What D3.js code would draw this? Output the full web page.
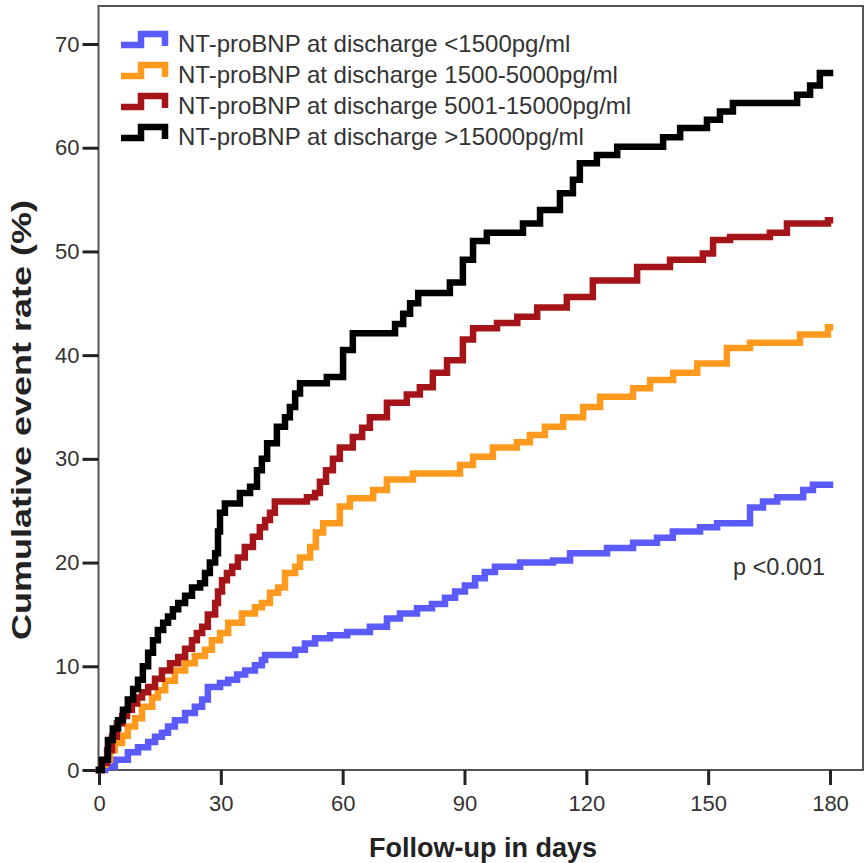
<!DOCTYPE html>
<html>
<head>
<meta charset="utf-8">
<script src="https://cdn.jsdelivr.net/npm/d3@7"></script>
<style>
  body { margin: 0; background: #fff; }
  svg { display: block; font-family: "Liberation Sans", Arial, sans-serif; }
</style>
</head>
<body>
<div id="chart"></div>
<script>
// step points: [day, cumulative event rate %]
const seriesNames = [
    'NT-proBNP at discharge <1500pg/ml',
    'NT-proBNP at discharge 1500-5000pg/ml',
    'NT-proBNP at discharge 5001-15000pg/ml',
    'NT-proBNP at discharge >15000pg/ml'
];
const seriesColors = ['#5b5bfb', '#ff9a1e', '#a51419', '#000000'];

const lowData = [
    [0,0],[1.5,0.3],[3.9,1.0],[7.1,1.7],[9.6,2.2],[12.1,2.7],[13.8,3.2],[15.5,3.6],[17.0,4.2],
    [18.7,4.8],[21.2,5.5],[23.6,6.1],[25.4,6.8],[26.8,8.0],[29.8,8.4],[31.8,8.7],[34.0,9.2],
    [36.0,9.6],[38.4,10.1],[40.1,10.6],[40.9,11.1],[48.3,11.6],[50.7,12.2],[53.2,12.7],[56.9,13.0],
    [61.1,13.3],[66.7,13.8],[70.9,14.6],[74.1,15.1],[78.3,15.6],[82.0,16.0],[85.2,16.6],[87.7,17.2],
    [90.1,17.8],[92.6,18.5],[95.0,19.1],[97.5,19.6],[103.7,20.0],[111.8,20.2],[116.0,20.9],
    [125.1,21.4],[131.5,21.9],[137.4,22.4],[141.3,23.0],[148.0,23.4],[152.2,23.8],[160.3,25.3],
    [163.5,25.9],[167.0,26.3],[173.4,27.0],[175.8,27.5],[180,27.5]
];
const midData = [
    [0,0],[0.7,0.5],[1.5,1.0],[2.7,1.9],[3.9,2.6],[5.7,3.3],[7.1,4.2],[8.9,5.0],[10.6,6.1],
    [13.1,7.0],[14.5,7.7],[16.3,8.6],[18.7,9.6],[21.2,10.3],[23.6,11.0],[26.1,11.6],[27.8,12.5],
    [29.8,13.2],[31.8,14.2],[35.2,15.1],[38.4,15.7],[40.1,16.1],[42.1,17.1],[44.1,17.6],[45.8,19.0],
    [48.3,19.6],[49.5,20.5],[52.0,21.5],[53.4,22.9],[55.2,23.8],[59.3,25.4],[61.8,26.2],[67.5,27.0],
    [70.9,28.0],[77.3,28.6],[88.9,29.4],[92.1,30.2],[97.0,31.1],[102.9,31.6],[106.1,32.3],
    [109.8,33.1],[114.3,34.0],[119.2,35.0],[123.4,36.0],[131.5,36.8],[135.7,37.6],[141.4,38.3],
    [147.3,39.2],[154.6,40.7],[160.3,41.2],[172.6,42.0],[179.5,42.7],[180,42.7]
];
const highData = [
    [0,0],[0.7,0.7],[2.0,1.9],[3.2,3.2],[4.4,4.5],[5.7,5.2],[6.9,5.8],[8.1,6.4],[9.4,7.0],
    [10.6,7.5],[12.1,8.0],[13.8,8.8],[15.5,9.6],[17.5,10.3],[19.5,10.9],[21.2,11.7],[22.9,12.5],
    [24.1,13.2],[25.4,13.8],[26.8,15.0],[28.6,16.1],[29.3,17.2],[30.3,18.3],[31.5,19.0],[32.8,19.6],
    [34.2,20.5],[35.9,21.5],[37.9,22.5],[39.6,23.4],[40.9,24.1],[42.1,24.8],[43.3,25.9],[51.2,26.3],
    [53.2,26.7],[54.4,27.8],[55.9,28.9],[57.6,30.0],[59.3,31.1],[62.5,32.1],[64.8,33.0],[66.7,34.0],
    [70.9,35.4],[75.8,36.2],[79.0,36.9],[82.2,38.3],[85.7,39.5],[89.6,41.5],[92.1,42.6],[98.0,43.1],
    [103.0,43.7],[107.9,44.6],[115.2,45.6],[121.6,47.2],[132.5,48.5],[140.6,49.2],[148.7,49.8],
    [151.2,51.1],[155.4,51.4],[165.2,51.8],[169.4,52.7],[179.5,53.0],[180,53.0]
];
const topData = [
    [0,0],[0.7,1.0],[2.2,2.9],[3.4,4.0],[4.7,4.8],[5.9,5.8],[7.1,6.8],[8.4,7.8],[9.6,8.7],
    [10.8,10.0],[12.1,11.3],[13.3,12.5],[14.5,13.5],[15.8,14.2],[17.0,14.8],[18.2,15.5],[19.5,16.1],
    [21.2,16.8],[22.9,17.6],[24.9,18.0],[26.1,19.0],[27.3,20.0],[28.6,20.9],[29.3,23.0],[29.8,24.8],
    [31.0,25.7],[34.7,26.7],[37.2,27.3],[38.9,28.9],[40.1,30.0],[41.4,31.5],[43.8,33.1],[45.8,34.0],
    [47.0,35.0],[48.3,36.3],[49.5,37.3],[56.1,37.9],[60.1,40.5],[62.5,42.1],[72.9,43.0],[74.9,44.0],
    [76.6,45.0],[78.6,46.0],[86.4,47.0],[89.6,49.2],[92.1,51.0],[95.5,51.8],[104.4,52.7],
    [108.6,54.0],[113.5,55.6],[116.7,56.9],[118.4,58.5],[122.6,59.3],[127.6,60.1],[138.9,61.0],
    [143.1,61.9],[149.7,62.7],[152.9,63.5],[156.1,64.3],[171.9,65.1],[175.1,66.0],[177.5,67.2],
    [180,67.2]
];
const allSeries = [lowData, midData, highData, topData];

const xTicks = [0, 30, 60, 90, 120, 150, 180];
const yTicks = [0, 10, 20, 30, 40, 50, 60, 70];

const width = 865, height = 863;
const svg = d3.select('#chart').append('svg')
    .attr('width', width)
    .attr('height', height);

const x = d3.scaleLinear().domain([0, 180]).range([99, 830]);
const y = d3.scaleLinear().domain([0, 70]).range([770, 44]);

// frame
svg.append('rect')
    .attr('x', 98.5).attr('y', 6)
    .attr('width', 863 - 98.5).attr('height', 770 - 6)
    .attr('fill', 'none')
    .attr('stroke', '#555')
    .attr('stroke-width', 2);

const xAxis = svg.append('g')
    .attr('transform', 'translate(0,770)')
    .call(d3.axisBottom(x).tickValues(xTicks).tickSize(15).tickPadding(10));
const yAxis = svg.append('g')
    .attr('transform', 'translate(98.5,0)')
    .call(d3.axisLeft(y).tickValues(yTicks).tickSize(16).tickPadding(3));

[xAxis, yAxis].forEach(g => {
    g.select('.domain').remove();
    g.selectAll('.tick line').attr('stroke', '#222').attr('stroke-width', 3);
    g.selectAll('.tick text')
        .attr('fill', '#333')
        .style('font-size', '22px');
});

const line = d3.line()
    .curve(d3.curveStepAfter)
    .x(d => x(d[0]))
    .y(d => y(d[1]));

svg.append('g')
    .selectAll('path')
    .data(allSeries)
    .join('path')
    .attr('d', line)
    .attr('fill', 'none')
    .attr('stroke', (d, i) => seriesColors[i])
    .attr('stroke-width', 6.5)
    .attr('stroke-linecap', 'square');

// legend
const legend = svg.append('g')
    .selectAll('g')
    .data(seriesNames)
    .join('g')
    .attr('transform', (d, i) => `translate(0,${44 + i * 31})`);

legend.append('path')
    .attr('d', 'M121,1 H141 V-10 H165 V2')
    .attr('fill', 'none')
    .attr('stroke', (d, i) => seriesColors[i])
    .attr('stroke-width', 6.5);

legend.append('text')
    .attr('x', 178)
    .attr('dy', '0.35em')
    .attr('fill', '#333')
    .style('font-size', '24px')
    .text(d => d);

svg.append('text')
    .attr('x', 733).attr('y', 567)
    .attr('dy', '0.35em')
    .attr('fill', '#333')
    .style('font-size', '23.5px')
    .text('p <0.001');

svg.append('text')
    .attr('x', 483).attr('y', 857)
    .attr('text-anchor', 'middle')
    .attr('fill', '#222')
    .style('font-size', '27px')
    .style('font-weight', 'bold')
    .text('Follow-up in days');

// the axis title is drawn stretched along its length in the source
svg.append('text')
    .attr('transform', 'translate(31,420) rotate(-90)')
    .attr('text-anchor', 'middle')
    .attr('fill', '#222')
    .attr('textLength', 440)
    .attr('lengthAdjust', 'spacingAndGlyphs')
    .style('font-size', '27px')
    .style('font-weight', 'bold')
    .text('Cumulative event rate (%)');
</script>
</body>
</html>
